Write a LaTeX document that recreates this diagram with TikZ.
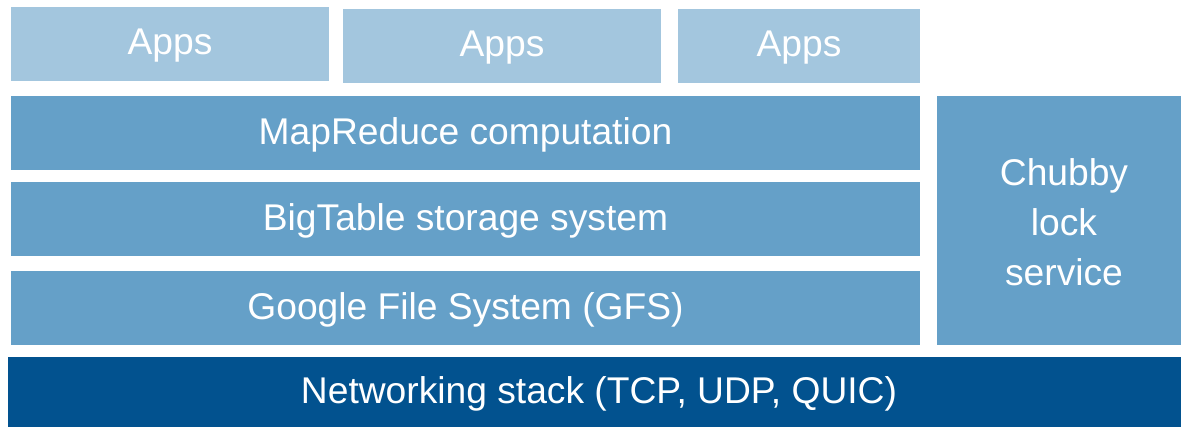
\documentclass[tikz,border=0pt]{standalone}
\usepackage{fontspec}
\setmainfont{Liberation Sans}
\usepackage{tikz}
\usetikzlibrary{positioning}
\usepackage{xcolor}
\definecolor{appsblue}{RGB}{163,198,222}
\definecolor{layerblue}{RGB}{101,160,200}
\definecolor{netblue}{RGB}{2,82,143}

\begin{document}
\begin{tikzpicture}[x=0.75pt, y=-0.75pt,
  lbl/.style={text=white, font=\fontsize{27.9}{37.5}\selectfont, align=center, inner sep=0pt}]
  \useasboundingbox (0,0) rectangle (1181,427);
  % Apps row
  \fill[appsblue] (11,7) rectangle (329,81);
  \node[lbl] (apps1) at (170,46) {Apps};
  \fill[appsblue] (343,9) rectangle (661,83);
  \node[lbl] (apps2) at (502,48) {Apps};
  \fill[appsblue] (678,9) rectangle (920,83);
  \node[lbl] (apps3) at (799,48) {Apps};
  % Layers
  \fill[layerblue] (11,96) rectangle (920,170);
  \node[lbl] (mapred) at (465.5,135) {MapReduce computation};
  \fill[layerblue] (11,182) rectangle (920,256);
  \node[lbl] (bigtable) at (465.5,221) {BigTable storage system};
  \fill[layerblue] (11,271) rectangle (920,345);
  \node[lbl] (gfs) at (465.5,310) {Google File System (GFS)};
  % Lock service
  \fill[layerblue] (937,96) rectangle (1181,345);
  \node[lbl] (chubby) at (1064,222) {Chubby\\lock\\service};
  % Network
  \fill[netblue] (8,357) rectangle (1181,427);
  \node[lbl] (net) at (599,394) {Networking stack (TCP, UDP, QUIC)};
\end{tikzpicture}
\end{document}
